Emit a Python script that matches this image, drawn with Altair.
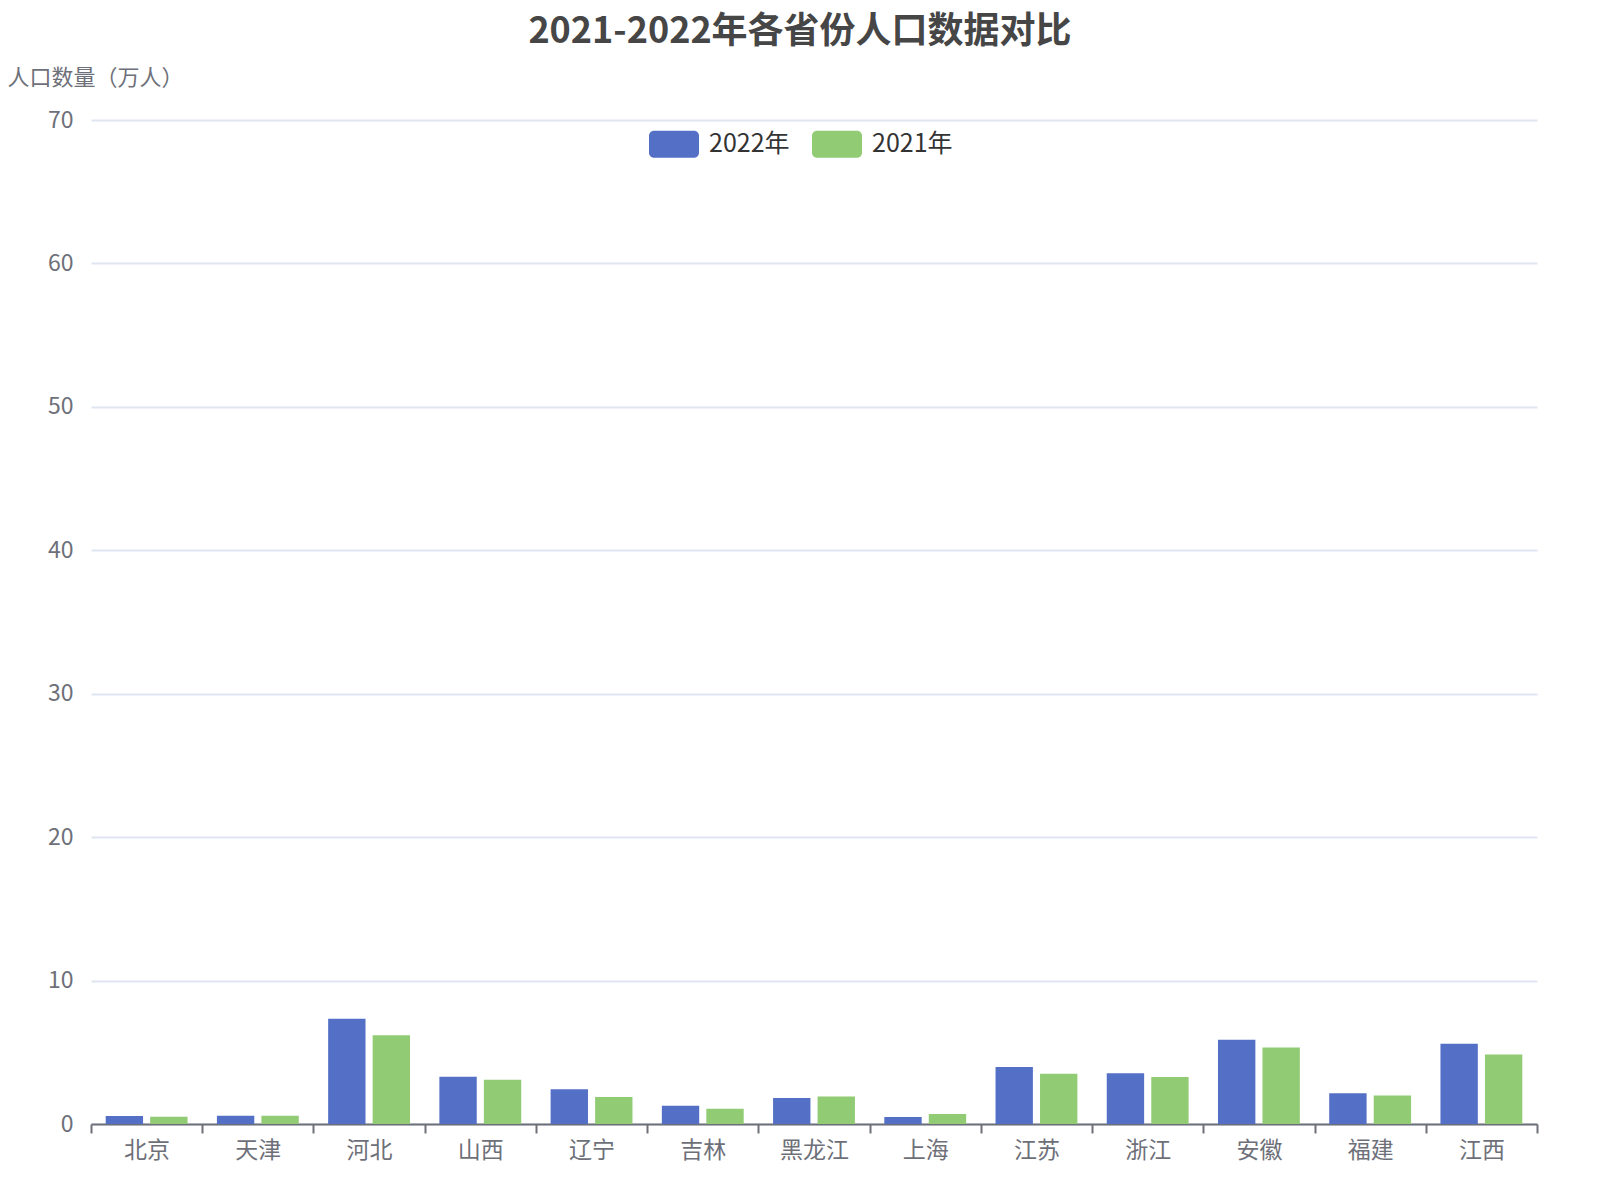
import altair as alt
import pandas as pd

provinces = ["北京", "天津", "河北", "山西", "辽宁", "吉林", "黑龙江", "上海", "江苏", "浙江", "安徽", "福建", "江西"]
values_2022 = [0.56, 0.58, 7.33, 3.30, 2.42, 1.28, 1.81, 0.49, 3.98, 3.54, 5.88, 2.14, 5.60]
values_2021 = [0.51, 0.58, 6.19, 3.09, 1.88, 1.07, 1.91, 0.70, 3.51, 3.28, 5.33, 1.98, 4.84]
series_names = ["2022年", "2021年"]
series_colors = ["#5470C6", "#91CC75"]
y_ticks = [0, 10, 20, 30, 40, 50, 60, 70]

rows = []
for p, v22, v21 in zip(provinces, values_2022, values_2021):
    rows.append({"省份": p, "年份": series_names[0], "人口": v22})
    rows.append({"省份": p, "年份": series_names[1], "人口": v21})
df = pd.DataFrame(rows)

FONT = "Noto Sans CJK SC"
rounded = ("M-0.8,-0.54 H0.8 A0.2,0.2 0 0 1 1,-0.34 V0.34 A0.2,0.2 0 0 1 0.8,0.54 "
           "H-0.8 A0.2,0.2 0 0 1 -1,0.34 V-0.34 A0.2,0.2 0 0 1 -0.8,-0.54 Z")

chart = alt.Chart(df).mark_bar().encode(
    x=alt.X("省份:N", sort=provinces,
            scale=alt.Scale(paddingInner=0, paddingOuter=0),
            axis=alt.Axis(title=None, labelAngle=0, labelFontSize=23, labelColor="#6E7079",
                          labelFont=FONT, domainColor="#6E7079", domainWidth=2,
                          tickColor="#6E7079", tickWidth=2, tickSize=9, tickBand="extent",
                          labelPadding=6, grid=False)),
    xOffset=alt.XOffset("年份:N", sort=series_names,
                        scale=alt.Scale(paddingInner=0.16, paddingOuter=0.33)),
    y=alt.Y("人口:Q", scale=alt.Scale(domain=[0, 70], nice=False),
            axis=alt.Axis(values=y_ticks, title="人口数量（万人）", titleAngle=0,
                          titleX=4, titleY=-43, titleAlign="center", titleBaseline="middle",
                          titleFontSize=22, titleFontWeight="normal", titleColor="#6E7079",
                          titleFont=FONT, labelFontSize=23, labelColor="#6E7079", labelFont=FONT,
                          domain=False, ticks=False, labelPadding=18,
                          gridColor="#E0E6F1", gridWidth=2)),
    color=alt.Color("年份:N", sort=series_names,
                    scale=alt.Scale(domain=series_names, range=series_colors),
                    legend=alt.Legend(title=None, orient="none", direction="horizontal",
                                      legendX=558, legendY=-1, symbolType=rounded,
                                      symbolSize=2500, symbolStrokeWidth=0, symbolOpacity=1,
                                      labelFontSize=25, labelColor="#333333", labelFont=FONT,
                                      labelOffset=10, columnPadding=22, padding=0)),
).properties(
    width=1446,
    height=1004,
    title=alt.TitleParams("2021-2022年各省份人口数据对比", fontSize=36, fontWeight="bold",
                          color="#464646", font=FONT, anchor="middle", dx=-14, offset=15),
    autosize=alt.AutoSizeParams(type="none"),
    padding={"left": 83, "top": 112, "right": 40, "bottom": 60},
).configure_view(stroke=None)

chart.save("out.html", embed_options={"renderer": "svg", "actions": False})
